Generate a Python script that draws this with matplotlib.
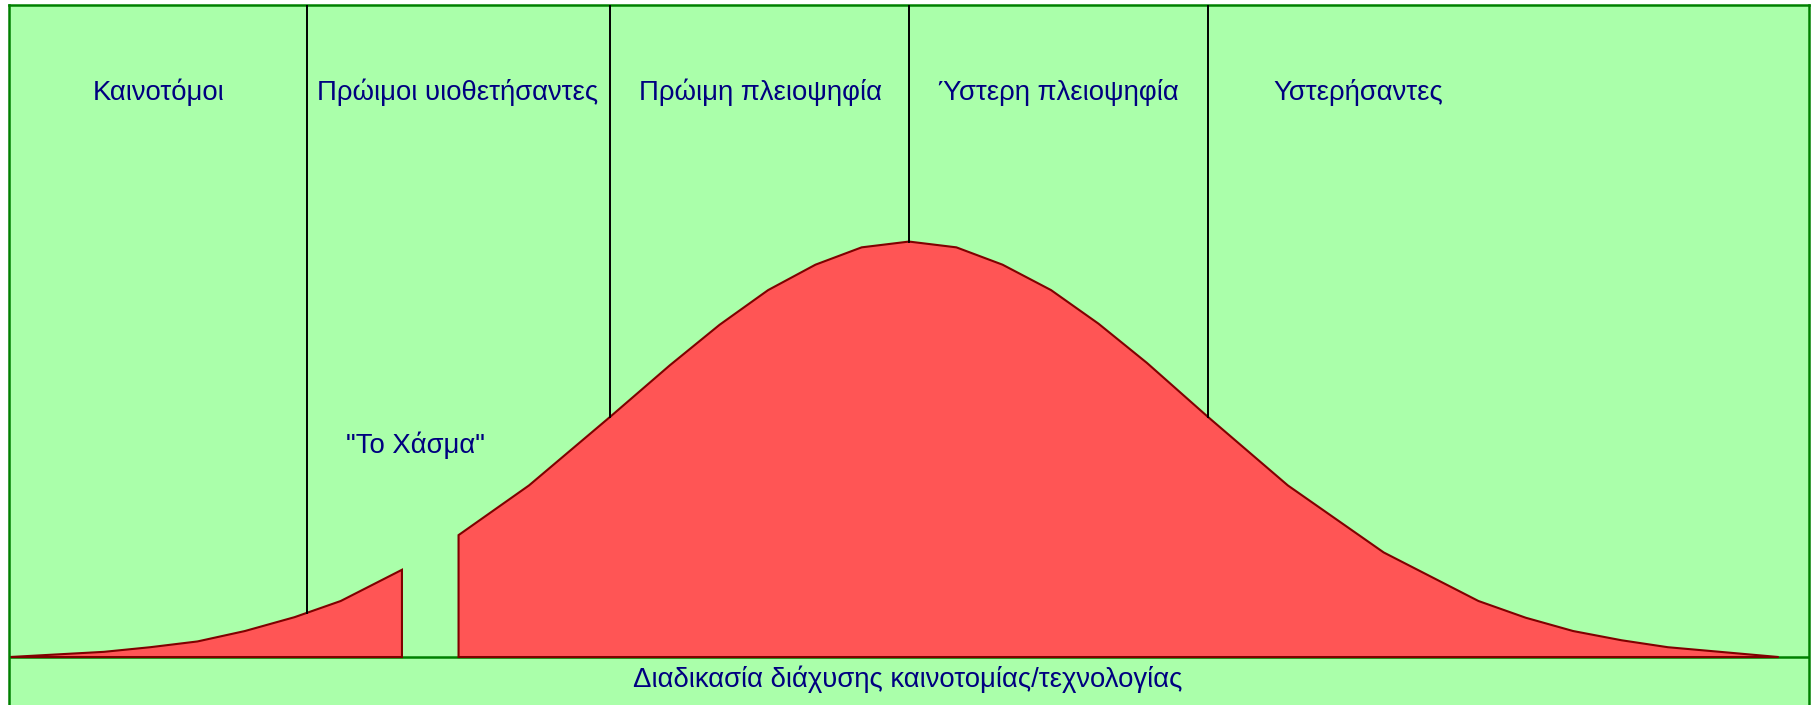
import matplotlib.pyplot as plt
import numpy as np

# καμπύλη διάχυσης (ύψος πάνω από τη βάση), δύο κομμάτια με το "χάσμα" ανάμεσα
left_x = [8, 90, 130, 171, 212, 255, 295, 348]
left_h = [0, 4.5, 8.5, 13.5, 22.5, 34.5, 48.5, 75.5]
right_x = [397, 458, 529, 580, 623, 665, 706, 746, 787, 828, 868, 910, 951,
           993, 1045, 1115, 1198, 1280, 1321, 1362, 1404, 1444, 1540]
right_h = [105.5, 148.5, 208.5, 252.5, 287.5, 317.5, 339.5, 354.5, 359.5,
           354.5, 339.5, 317.5, 288.5, 254.5, 208.5, 148.5, 90.5, 48.5, 34,
           22.5, 14.5, 8.5, 0]

divider_x = [266, 528, 787, 1046]
group_names = ["Καινοτόμοι", "Πρώιμοι υιοθετήσαντες", "Πρώιμη πλειοψηφία",
               "Ύστερη πλειοψηφία", "Υστερήσαντες"]
group_x = [137, 396, 658, 916, 1176]
chasm_label = '"Το Χάσμα"'
axis_label = "Διαδικασία διάχυσης καινοτομίας/τεχνολογίας"

GREEN_BG = "#aaffaa"
FRAME = "#008000"
NAVY = "#000080"

plt.rcParams['font.family'] = ['Liberation Sans', 'DejaVu Sans']

fig = plt.figure(figsize=(18.11, 7.05), dpi=100, facecolor="white")
# άξονες = πράσινο πλαίσιο (σε pixel: 8.5..1809 οριζόντια, από 5 και κάτω)
ax = fig.add_axes([8.5 / 1811, 0, 1800.5 / 1811, 700 / 705])
ax.set_facecolor(GREEN_BG)
ax.set_xlim(8.5 / 1.155, 1566.2)
ax.set_ylim(-41.5, 564.2)
ax.set_xticks([])
ax.set_yticks([])
for s in ["left", "right", "top"]:
    ax.spines[s].set_color(FRAME)
    ax.spines[s].set_linewidth(1.8)
ax.spines["bottom"].set_visible(False)

ax.axhline(0, color=FRAME, lw=1.8, zorder=1)

ax.fill(left_x + [left_x[-1]], left_h + [0], facecolor="#ff5555",
        edgecolor="#800000", lw=1.5, zorder=2)
ax.fill([right_x[0]] + right_x, [0] + right_h, facecolor="#ff5555",
        edgecolor="#800000", lw=1.5, zorder=2)

# διαχωριστικές γραμμές ως την καμπύλη
all_x = left_x + right_x
all_h = left_h + right_h
for dx in divider_x:
    h = np.interp(dx, all_x, all_h)
    ax.plot([dx, dx], [h, 564.2], color="black", lw=1.4, zorder=3)

for name, gx in zip(group_names, group_x):
    ax.text(gx, 488.5, name, color=NAVY, fontsize=19.8, ha="center", va="center")
ax.text(360, 183.5, chasm_label, color=NAVY, fontsize=19.8, ha="center", va="center")
ax.text(786, -19.5, axis_label, color=NAVY, fontsize=19.8, ha="center", va="center")

fig.savefig("out.png", dpi=100, facecolor="white")
